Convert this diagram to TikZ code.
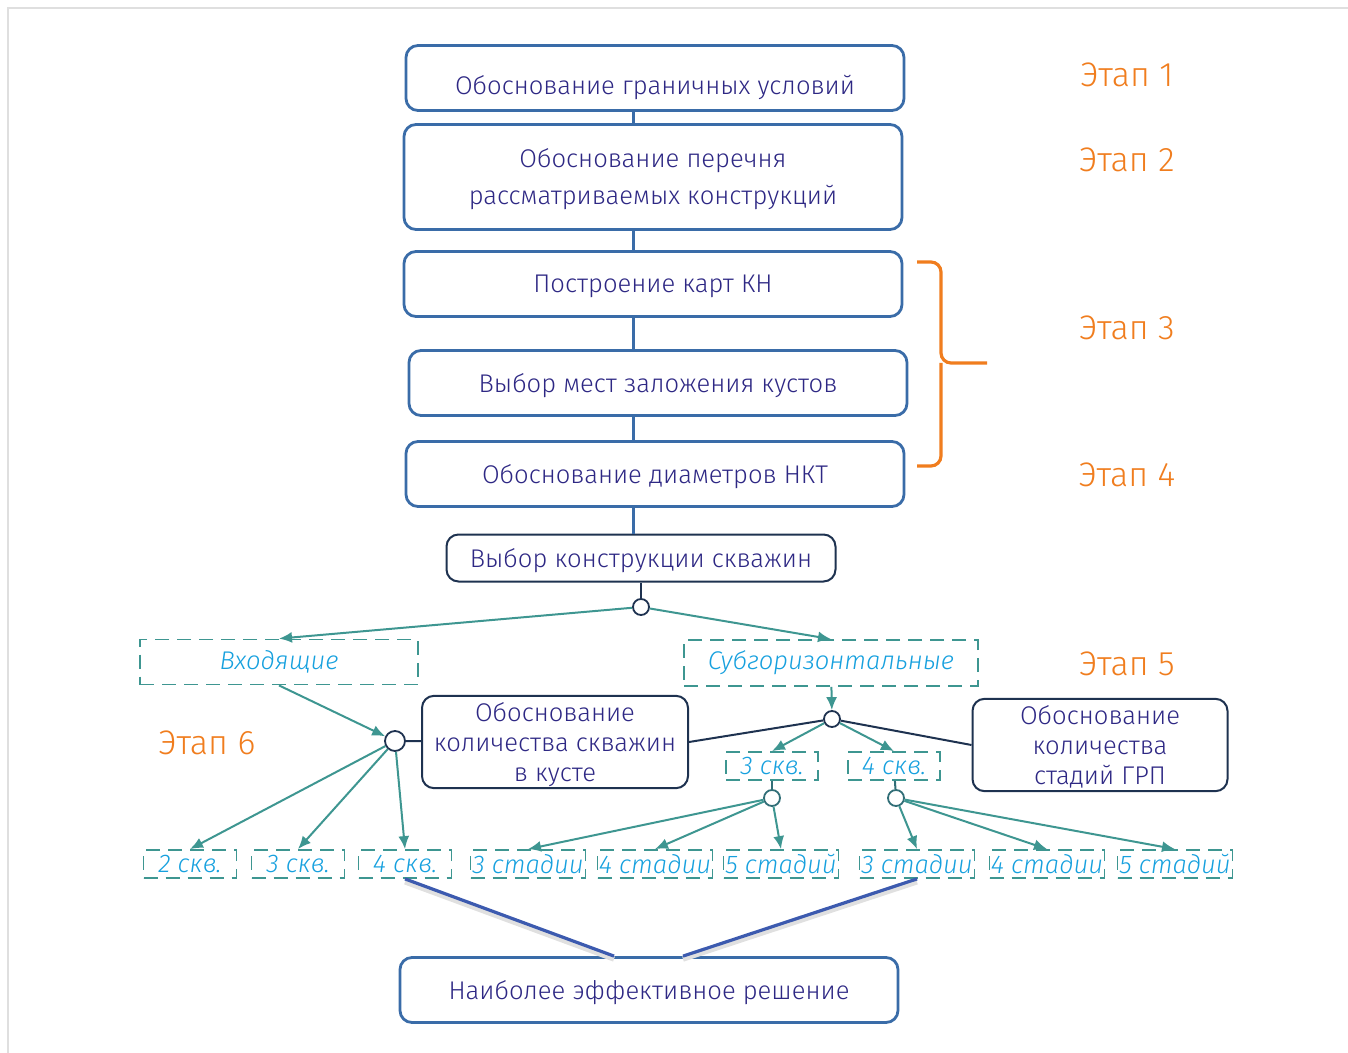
\documentclass[tikz,border=0pt]{standalone}
\usepackage{fontspec}
\setmainfont{Fira Sans}[UprightFont = * Light, ItalicFont = * Light Italic]
\usetikzlibrary{arrows.meta,positioning}
\definecolor{boxblue}{RGB}{58,108,168}
\definecolor{boxtext}{RGB}{46,40,132}
\definecolor{navy}{RGB}{30,50,80}
\definecolor{tealline}{RGB}{62,150,145}
\definecolor{choicetext}{RGB}{22,160,222}
\definecolor{etaporange}{RGB}{240,125,30}
\definecolor{finalline}{RGB}{60,90,175}
\newcommand{\etap}[3]{\node[etap] (#1) at #2 {Этап #3};}

\begin{document}
\begin{tikzpicture}[x = 0.5pt, y = -0.5pt,
    stepbox/.style = {draw = boxblue, line width = 1.4pt, rounded corners = 6pt,
      minimum width = 249pt, minimum height = 32.5pt, text = boxtext, text depth = 0pt,
      align = center, font = \fontsize{12.8}{18.5}\selectfont},
    navybox/.style = {stepbox, draw = navy, line width = 1pt},
    choice/.style = {draw = tealline, line width = 0.9pt, dash pattern = on 7pt off 4pt,
      text = choicetext, font = \fontsize{12.8}{14}\selectfont\itshape,
      minimum height = 14pt, inner sep = 0pt},
    knot/.style = {circle, draw = navy, line width = 0.9pt, fill = white,
      minimum size = 8pt, inner sep = 0pt},
    etap/.style = {text = etaporange, font = \fontsize{17}{20}\selectfont},
    flow/.style = {draw = tealline, line width = 1pt, -{Latex[length = 6.5pt, width = 5.5pt]}},
    link/.style = {draw = navy, line width = 1pt},
    spine/.style = {draw = boxblue, line width = 1.5pt},
    result/.style = {draw = finalline, line width = 1.6pt,
      preaction = {draw = black!12, line width = 2.6pt, transform canvas = {yshift = -1.5pt}}},
  ]
  \useasboundingbox (0,0) rectangle (1348,1053);
  \draw[gray!25, line width = 0.6pt] (1348,8) -- (8,8) -- (8,1053);

  % main chain
  \node[stepbox, text height = 17pt] (bounds) at (655,78) {Обоснование граничных условий};
  \node[stepbox, minimum height = 52.5pt] (designs) at (653,177)
    {Обоснование перечня\\рассматриваемых конструкций};
  \node[stepbox] (maps) at (653,284) {Построение карт КН};
  \node[stepbox] (pads) at (658,383) {Выбор мест заложения кустов};
  \node[stepbox] (tubing) at (655,474) {Обоснование диаметров НКТ};
  \node[navybox, minimum width = 194.5pt, minimum height = 23.5pt] (wellchoice)
    at (641,558) {Выбор конструкции скважин};
  \node[stepbox] (best) at (649,990) {Наиболее эффективное решение};

  \coordinate (axis) at (633,0);
  \foreach \a/\b in {bounds/designs, designs/maps, maps/pads, pads/tubing, tubing/wellchoice}
    \draw[spine] (\a.south -| axis) -- (\b.north -| axis);

  % well types
  \node[knot] (split) at (641,607) {};
  \node[choice, minimum width = 139pt, minimum height = 22.5pt] (inflow) at (279,662) {Входящие};
  \node[choice, minimum width = 147pt, minimum height = 23pt] (subhor) at (831,663) {Субгоризонтальные};
  \draw[link] (wellchoice) -- (split);
  \draw[flow] (split) -- (inflow.north);
  \draw[flow] (split) -- (subhor.north);

  % counts
  \node[knot, minimum size = 10pt] (padknot) at (395,741) {};
  \node[navybox, minimum width = 133pt, minimum height = 46pt,
    font = \fontsize{12.8}{15}\selectfont] (padcount) at (555,742)
    {Обоснование\\количества скважин\\в кусте};
  \node[knot] (fracknot) at (832,719) {};
  \node[navybox, minimum width = 127.5pt, minimum height = 46pt,
    font = \fontsize{12.8}{15}\selectfont] (fraccount) at (1100,745)
    {Обоснование\\количества\\стадий ГРП};
  \draw[flow] (inflow.south) -- (padknot);
  \draw[link] (padknot) -- (padcount);
  \draw[flow] (subhor) -- (fracknot);
  \draw[link] (fracknot) -- (padcount.east);
  \draw[link] (fracknot) -- (fraccount.west);

  \node[choice, minimum width = 46pt] (sub3) at (772,766) {3 скв.};
  \node[choice, minimum width = 46pt] (sub4) at (894,766) {4 скв.};
  \draw[flow] (fracknot) -- (sub3.north);
  \draw[flow] (fracknot) -- (sub4.north);
  \node[knot, draw = tealline!60!navy] (knot3) at (772,798) {};
  \node[knot, draw = tealline!60!navy] (knot4) at (896,798) {};
  \draw[link, draw = tealline!60!navy] (sub3) -- (knot3);
  \draw[link, draw = tealline!60!navy] (sub4) -- (knot4);

  % variants
  \foreach \nm/\cx/\tx in {w2/190/2 скв., w3/298/3 скв., w4/405/4 скв.}
    \node[choice, minimum width = 46.5pt] (\nm) at (\cx,864) {\tx};
  \foreach \nm/\cx/\tx in {a3/528/3 стадии, a4/655/4 стадии, a5/781/5 стадий,
      b3/917/3 стадии, b4/1047/4 стадии, b5/1175/5 стадий}
    \node[choice, minimum width = 57.5pt] (\nm) at (\cx,864) {\tx};
  \foreach \t in {w2, w3, w4} \draw[flow] (padknot) -- (\t.north);
  \foreach \t in {a3, a4, a5} \draw[flow] (knot3) -- (\t.north);
  \foreach \t in {b3, b4, b5} \draw[flow] (knot4) -- (\t.north);

  \draw[result] (w4.south) -- ([xshift = -17.5pt]best.north);
  \draw[result] (b3.south) -- ([xshift = 17pt]best.north);

  % stages
  \draw[etaporange, line width = 1.6pt, rounded corners = 5pt]
    (917,262) -| (941,363) -- (987,363);
  \draw[etaporange, line width = 1.6pt, rounded corners = 5pt]
    (917,466) -| (941,363);
  \etap{e1}{(1127,75)}{1}
  \etap{e2}{(1127,160)}{2}
  \etap{e3}{(1127,328)}{3}
  \etap{e4}{(1127,475)}{4}
  \etap{e5}{(1127,664)}{5}
  \etap{e6}{(207,743)}{6}
\end{tikzpicture}
\end{document}
